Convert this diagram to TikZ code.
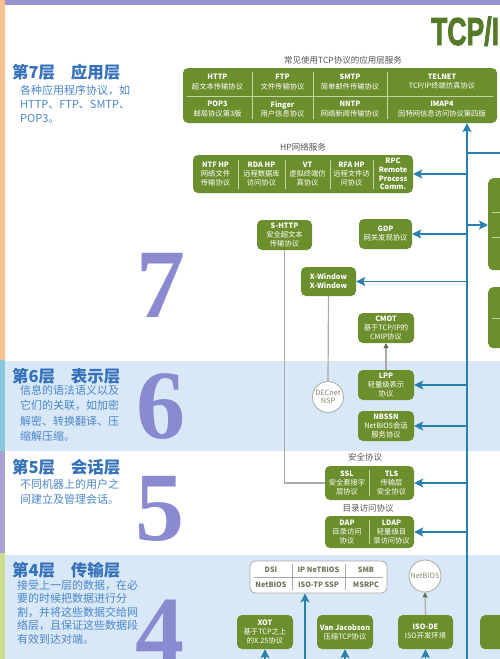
\documentclass[tikz,border=0pt]{standalone}
\usepackage{fontspec}
\usepackage{graphicx}
\setmainfont{Noto Sans CJK SC}
\newfontfamily\numfont{Liberation Serif}
\newfontfamily\titlefont[FakeBold=2.5]{Liberation Sans Bold}
\usetikzlibrary{arrows.meta}
\definecolor{gfill}{HTML}{6C8F2E}
\definecolor{dcol}{HTML}{C4D6A4}
\definecolor{bcol}{HTML}{2A80AC}
\definecolor{lgray}{HTML}{AAAAAA}
\definecolor{cgray}{HTML}{A8A8A8}
\definecolor{tipcol}{HTML}{5E7050}
\definecolor{lcol}{HTML}{555555}
\definecolor{hcol}{HTML}{3572BA}
\definecolor{tcol}{HTML}{4A86C8}
\definecolor{ncol}{HTML}{8A8AD0}
\definecolor{tgreen}{HTML}{557A28}
\definecolor{band}{HTML}{D9E8F6}
\definecolor{orng}{HTML}{F8C28E}
\definecolor{lav}{HTML}{9494D4}
\definecolor{teal}{HTML}{88C8DA}
\definecolor{purp}{HTML}{A9A2D2}
\definecolor{lgreen}{HTML}{C9DC90}
\definecolor{wtxt}{HTML}{6E7858}
\definecolor{ctxt}{HTML}{7E8A6E}
\begin{document}
\begin{tikzpicture}[x=1pt,y=-1pt,
 gbox/.style={fill=gfill, rounded corners=5pt, inner sep=0pt, text=white, align=center, font=\fontsize{7.3}{9}\selectfont},
 celltxt/.style={text=white, align=center, inner sep=0pt, font=\fontsize{7.3}{9.2}\selectfont},
 dv/.style={draw=dcol, line width=0.6pt},
 bl/.style={draw=bcol, line width=1.8pt, -{Stealth[length=9pt,width=9pt,inset=2pt]}},
 blp/.style={draw=bcol, line width=1.8pt},
 gl/.style={draw=lgray, line width=1.2pt},
 gla/.style={draw=lgray, line width=1.2pt, -{Triangle[length=5pt,width=5pt,color=tipcol]}},
 circ/.style={circle, draw=cgray, fill=white, line width=0.8pt, minimum size=31pt, inner sep=0pt, align=center, font=\fontsize{7.3}{8.6}\selectfont},
 lab/.style={text=lcol, inner sep=0pt, font=\fontsize{8.5}{10}\selectfont},
 head/.style={anchor=west, inner sep=0pt, text=hcol, font=\fontsize{16.5}{18}\selectfont\bfseries},
 body/.style={anchor=west, inner sep=0pt, text=tcol, font=\fontsize{11}{13}\selectfont},
 bignum/.style={anchor=base, inner sep=0pt, text=ncol, font=\numfont\bfseries\fontsize{98}{98}\selectfont},
]
\clip (0,0) rectangle (500,659);
\fill[white] (0,0) rectangle (500,659);
% bands and strips
\fill[lav] (5,0) rectangle (500,5);
\fill[orng] (0,0) rectangle (5,360);
\fill[band] (5,361) rectangle (500,451);
\fill[teal] (0,360) rectangle (5,451);
\fill[purp] (0,451) rectangle (5,553);
\fill[band] (5,555) rectangle (500,659);
\fill[lgreen] (0,553) rectangle (5,659);

% title
\node[anchor=base west, inner sep=0pt, text=tgreen] (title) at (431,45) {\titlefont\fontsize{39}{39}\selectfont\scalebox{0.68}[1]{TCP/IP}};

% left texts
\node[head] (h7) at (12,72.5) {第7层\hspace{0.95em}应用层};
\node[body] at (20,90) {各种应用程序协议，如};
\node[body] at (20,104.5) {HTTP、FTP、SMTP、};
\node[body] at (20,119) {POP3。};
\node[bignum] (n7) at (161,317) {7};

\node[head] (h6) at (12,376) {第6层\hspace{0.95em}表示层};
\node[body] at (20,390) {信息的语法语义以及};
\node[body] at (20,405.5) {它们的关联，如加密};
\node[body] at (20,421) {解密、转换翻译、压};
\node[body] at (20,436.5) {缩解压缩。};
\node[bignum] (n6) at (161,438) {6};

\node[head] (h5) at (12,467) {第5层\hspace{0.95em}会话层};
\node[body] at (20,484) {不同机器上的用户之};
\node[body] at (20,499) {间建立及管理会话。};
\node[bignum] (n5) at (160,540) {5};

\node[head] (h4) at (12,570) {第4层\hspace{0.95em}传输层};
\node[body] at (17,585) {接受上一层的数据，在必};
\node[body] at (17,598.5) {要的时候把数据进行分};
\node[body] at (17,612) {割，并将这些数据交给网};
\node[body] at (17,625.5) {络层，且保证这些数据段};
\node[body] at (17,639) {有效到达对端。};
\node[bignum] (n4) at (160,664) {4};

% application services box
\node[lab] (applab) at (343,60) {常见使用TCP协议的应用层服务};
\node[gbox, minimum width=314pt, minimum height=55pt] (app) at (340,95.5) {};
\draw[dv] (187,96) -- (493,96);
\foreach \x in {252,313,387} \draw[dv] (\x,72) -- (\x,119);
\node[celltxt] at (217.5,82) {\textbf{HTTP}\\超文本传输协议};
\node[celltxt] at (282.5,82) {\textbf{FTP}\\文件传输协议};
\node[celltxt] at (350,82) {\textbf{SMTP}\\简单邮件传输协议};
\node[celltxt] at (442,82) {\textbf{TELNET}\\TCP/IP终端仿真协议};
\node[celltxt] at (217.5,109) {\textbf{POP3}\\邮局协议第3版};
\node[celltxt] at (282.5,109) {\textbf{Finger}\\用户信息协议};
\node[celltxt] at (350,109) {\textbf{NNTP}\\网络新闻传输协议};
\node[celltxt] at (442,109) {\textbf{IMAP4}\\因特网信息访问协议第四版};

% HP box
\node[lab] (hplab) at (303,147) {HP网络服务};
\node[gbox, minimum width=220pt, minimum height=38pt] (hp) at (303,174) {};
\foreach \x in {238,285,330,373} \draw[dv] (\x,160) -- (\x,189);
\node[celltxt] at (215.5,174) {\textbf{NTF HP}\\网络文件\\传输协议};
\node[celltxt] at (261.5,174) {\textbf{RDA HP}\\远程数据库\\访问协议};
\node[celltxt] at (307.5,174) {\textbf{VT}\\虚拟终端仿\\真协议};
\node[celltxt] at (351.5,174) {\textbf{RFA HP}\\远程文件访\\问协议};
\node[celltxt, font=\fontsize{7.3}{8.6}\selectfont] at (393,174) {\textbf{RPC}\\\textbf{Remote}\\\textbf{Process}\\\textbf{Comm.}};

% right partial boxes
\node[gbox, minimum width=40pt, minimum height=92pt, anchor=north west] (r1) at (488,178) {};
\draw[dv] (492,212) -- (500,212);
\draw[dv] (492,237) -- (500,237);
\node[gbox, minimum width=40pt, minimum height=61pt, anchor=north west] (r2) at (488,287) {};
\draw[dv] (492,318) -- (500,318);
\node[gbox, minimum width=40pt, minimum height=34pt, anchor=north west] (r3) at (480,615) {};

% small green boxes
\node[gbox, minimum width=55pt, minimum height=30pt] (shttp) at (284.5,235) {\textbf{S-HTTP}\\安全超文本\\传输协议};
\node[gbox, minimum width=53pt, minimum height=30pt] (gdp) at (385.5,234) {\textbf{GDP}\\网关发现协议};
\node[gbox, minimum width=55pt, minimum height=29pt] (xwin) at (328.5,281.5) {\textbf{X-Window}\\\textbf{X-Window}};
\node[gbox, minimum width=56pt, minimum height=30pt] (cmot) at (386,328) {\textbf{CMOT}\\基于TCP/IP的\\CMIP协议};
\node[gbox, minimum width=56pt, minimum height=30pt] (lpp) at (386,385) {\textbf{LPP}\\轻量级表示\\协议};
\node[gbox, minimum width=56pt, minimum height=30pt] (nbssn) at (386,426) {\textbf{NBSSN}\\NetBIOS会话\\服务协议};
\node[circ, text=ctxt] (decnet) at (328,397) {DECnet\\NSP};

\node[lab] (seclab) at (365,457) {安全协议};
\node[gbox, minimum width=89pt, minimum height=34pt] (ssl) at (369.5,483) {};
\draw[dv] (369,470) -- (369,496);
\node[celltxt] at (347,483) {\textbf{SSL}\\安全套接字\\层协议};
\node[celltxt] at (391.5,483) {\textbf{TLS}\\传输层\\安全协议};

\node[lab] (dirlab) at (368,508) {目录访问协议};
\node[gbox, minimum width=89pt, minimum height=32pt] (dap) at (369.5,532) {};
\draw[dv] (369,520) -- (369,544);
\node[celltxt] at (347,532) {\textbf{DAP}\\目录访问\\协议};
\node[celltxt] at (391.5,532) {\textbf{LDAP}\\轻量级目\\录访问协议};

% layer 4
\node[draw=cgray, fill=white, rounded corners=5pt, line width=0.8pt, minimum width=137pt, minimum height=32pt, inner sep=0pt] (dsi) at (318.5,577) {};
\draw[draw=cgray, line width=0.6pt] (254,577) -- (383,577);
\draw[draw=cgray, line width=0.6pt] (292,564) -- (292,590);
\draw[draw=cgray, line width=0.6pt] (345,564) -- (345,590);
\begin{scope}[every node/.style={text=wtxt, inner sep=0pt, font=\fontsize{7.3}{9}\selectfont\bfseries}]
\node at (271,569.5) {DSI};
\node at (318.5,569.5) {IP NeTBIOS};
\node at (366,569.5) {SMB};
\node at (271,585) {NetBIOS};
\node at (318.5,585) {ISO-TP SSP};
\node at (366,585) {MSRPC};
\end{scope}
\node[circ, text=ctxt, minimum size=32pt] (nbc) at (425,576) {NetBIOS};
\node[gbox, minimum width=56pt, minimum height=34pt] (xot) at (265,632) {\textbf{XOT}\\基于TCP之上\\的X.25协议};
\node[gbox, minimum width=56pt, minimum height=34pt] (vj) at (345,632) {\textbf{Van Jacobson}\\压缩TCP协议};
\node[gbox, minimum width=55pt, minimum height=34pt] (isode) at (425.5,632) {\textbf{ISO-DE}\\ISO开发环境};

% gray connectors
\coordinate (sbend) at (284.5,483);
\draw[gl] (shttp.south) -- (sbend) -- (ssl.west);
\draw[gl] (xwin.south) -- (decnet.north);
\draw[gla] (lpp.north) -- (cmot.south);
\draw[gla] (isode.north) -- (nbc.south);

% main blue line
\coordinate (mbot) at (467,659);
\draw[bl] (mbot) -- (app.south -| mbot);
\coordinate (br) at (467,153);
\coordinate (brend) at (500,153);
\draw[blp] (br) -- (brend);
\draw[bl] (hp.east -| mbot) -- (hp.east);
\coordinate (r1a) at (467,225);
\draw[bl] (r1a) -- (r1a -| r1.west);
\draw[bl] (gdp.east -| mbot) -- (gdp.east);
\draw[bl] (xwin.east -| mbot) -- (xwin.east);
\draw[bl] (lpp.east -| mbot) -- (lpp.east);
\draw[bl] (nbssn.east -| mbot) -- (nbssn.east);
\draw[bl] (ssl.east -| mbot) -- (ssl.east);
\draw[bl] (dap.east -| mbot) -- (dap.east);

% layer 4 blue arrows
\coordinate (dsib) at (305,659);
\draw[bl] (dsib) -- (dsib |- dsi.south);
\draw[bl] (xot.south |- mbot) -- (xot.south);
\draw[bl] (vj.south |- mbot) -- (vj.south);
\draw[bl] (isode.south |- mbot) -- (isode.south);
\end{tikzpicture}
\end{document}
